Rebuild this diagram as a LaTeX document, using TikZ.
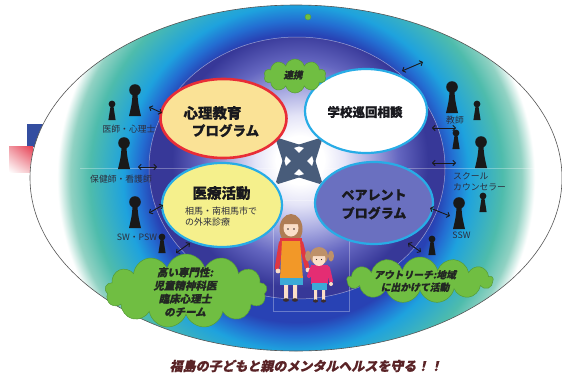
\documentclass[tikz,border=0pt]{standalone}
\usepackage{fontspec}
\newfontfamily\jp{Noto Sans CJK JP}
\newfontfamily\jpheavy{Noto Sans CJK JP}[FakeBold=0.7]
\newfontfamily\jpsl{Noto Sans CJK JP}[FakeSlant=0.22]
\newfontfamily\jpslheavy{Noto Sans CJK JP}[FakeSlant=0.22,FakeBold=0.6]
\usetikzlibrary{shapes.geometric,shapes.symbols,arrows.meta,shadings}

% ring and core colours
\definecolor{ringblue}{RGB}{40,66,180}
\definecolor{ringmid}{RGB}{35,110,210}
\definecolor{ringcyan}{RGB}{30,162,222}
\definecolor{ringteal}{RGB}{78,188,172}
\definecolor{ringpale}{RGB}{145,210,195}
\definecolor{coreindigo}{RGB}{55,56,152}
\definecolor{corepurple}{RGB}{100,102,192}
\definecolor{corelav}{RGB}{170,172,226}
\definecolor{corepale}{RGB}{228,228,247}
\definecolor{rimline}{RGB}{85,85,85}
% stray marks
\definecolor{markblue}{RGB}{52,78,160}
\definecolor{markredA}{RGB}{240,150,160}
\definecolor{markredB}{RGB}{230,60,80}
\definecolor{markredC}{RGB}{245,190,195}
\definecolor{markcream}{RGB}{250,225,160}
% bubbles
\definecolor{psyfill}{RGB}{250,226,150}
\definecolor{psyedge}{RGB}{232,45,55}
\definecolor{medfill}{RGB}{245,240,140}
\definecolor{parentfill}{RGB}{106,112,192}
\definecolor{bubbleedge}{RGB}{40,172,230}
\definecolor{crossfill}{RGB}{72,92,122}
\definecolor{cloudgreen}{RGB}{112,190,66}
\definecolor{cloudedge}{RGB}{85,155,55}
\definecolor{titleink}{RGB}{25,25,30}
\definecolor{labelink}{RGB}{45,45,60}
\definecolor{cloudink}{RGB}{35,40,35}
\definecolor{mottoink}{RGB}{90,35,38}
\definecolor{personfill}{RGB}{25,25,25}
% children
\definecolor{hairbrown}{RGB}{175,125,85}
\definecolor{hairlight}{RGB}{190,145,105}
\definecolor{skin}{RGB}{250,222,200}
\definecolor{shirtred}{RGB}{225,55,65}
\definecolor{apron}{RGB}{242,152,40}
\definecolor{skirtblue}{RGB}{60,170,215}
\definecolor{shirtpink}{RGB}{228,45,115}
\definecolor{shoe}{RGB}{60,45,45}

% ring: 25bp corresponds to 300pt
\pgfdeclareradialshading{ringshade}{\pgfpoint{0bp}{0bp}}{%
  color(0bp)=(ringblue); color(12bp)=(ringblue); color(13.1bp)=(ringmid);
  color(14.4bp)=(ringcyan); color(17.2bp)=(ringteal); color(18.8bp)=(ringpale);
  color(19.9bp)=(white); color(50bp)=(white)}
% core: 25bp corresponds to 200pt
\pgfdeclareradialshading{coreshade}{\pgfpoint{0bp}{0bp}}{%
  color(0bp)=(white); color(3bp)=(white); color(5.6bp)=(corepale);
  color(8.7bp)=(corelav); color(12.3bp)=(corepurple); color(16bp)=(coreindigo);
  color(50bp)=(coreindigo)}

\tikzset{
  bubble/.style={ellipse, line width=2.2pt, inner sep=0pt},
  puff/.style={cloud, cloud puffs=#1, cloud ignores aspect, fill=cloudgreen,
    draw=cloudedge, line width=0.5pt, inner sep=0pt},
  bubbletitle/.style={font=\jpheavy\bfseries\fontsize{#1}{#1}\selectfont, text=titleink, inner sep=0pt},
  bubbletext/.style={font=\jp\fontsize{9}{9}\selectfont, text=labelink, inner sep=0pt, anchor=west},
  rolelabel/.style={font=\jp\fontsize{8.8}{9}\selectfont, text=labelink, inner sep=0pt},
  cloudtext/.style={font=\jpslheavy\bfseries\fontsize{#1}{13.2}\selectfont, text=cloudink,
    align=center, inner sep=0pt},
  link/.style={line width=0.9pt, draw=personfill,
    {Straight Barb[length=2.6pt,width=5.5pt]}-{Straight Barb[length=2.6pt,width=5.5pt]}},
  ghost/.style={line width=0.5pt, draw=white, opacity=0.3},
  bigperson/.pic={
    \fill[personfill] (0,0) circle[radius=5.8];
    \fill[personfill] (-2.4,4) -- (2.4,4) .. controls (3.2,14) .. (6,26) -- (-6,26) .. controls (-3.2,14) .. (-2.4,4) -- cycle;},
  smallperson/.pic={
    \fill[personfill] (0,0) circle[radius=3.4];
    \fill[personfill] (-1.5,2.5) -- (1.5,2.5) .. controls (2,9) .. (3.6,16) -- (-3.6,16) .. controls (-2,9) .. (-1.5,2.5) -- cycle;}
}

\begin{document}
\begin{tikzpicture}[x=1pt,y=-1pt]
\useasboundingbox (0,0) rectangle (562,378);
\fill[white] (0,0) rectangle (562,378);

% stray marks at the left border
\fill[markblue] (27,124) rectangle (43,147);
\shade[upper left=markredA, upper right=markredB, lower left=white, lower right=markredC] (9,146) rectangle (33,172);
\draw[gray!35, line width=0.5pt] (50,118) -- (50,182) (53,118) -- (53,182);
\draw[markcream, line width=0.5pt]
  (43,150) -- (60,150) (45,150) -- (45,180) (35,168) -- (58,168) (35,176) -- (58,176);

% outer ring
\begin{scope}
  \clip (296,178) ellipse [x radius=266, y radius=173];
  \shade[shading=ringshade] (296,178) circle [radius=300];
\end{scope}
\draw[rimline, line width=0.6pt] (296,178) ellipse [x radius=266, y radius=173];

% inner core
\begin{scope}
  \clip (297,168) ellipse [x radius=148, y radius=131];
  \shade[shading=coreshade] (300,160) circle [radius=200];
\end{scope}
\draw[white, opacity=0.5, line width=0.5pt] (297,168) ellipse [x radius=148, y radius=131];

% faint guide lines
\draw[ghost] (80,168) -- (540,168);
\draw[ghost] (273,200) rectangle (349,311);

% small marker on the rim
\fill[cloudgreen, draw=cloudedge, line width=0.4pt] (308,17) circle [radius=3];

% central four-way arrow
\begin{scope}[shift={(299,161)}]
  \foreach \a in {45,135,225,315}{
    \fill[crossfill, rotate=\a] (0,-5.5) -- (13,-5.5) -- (9,-13) -- (31,-1.5) -- (31,1.5) -- (9,13) -- (13,5.5) -- (0,5.5) -- cycle;
  }
\end{scope}

% programme bubbles
\node[bubble, fill=psyfill, draw=psyedge, line width=2.6pt, minimum width=126pt, minimum height=79pt] (psy) at (223.5,118.5) {};
\node[bubble, fill=white, draw=bubbleedge, minimum width=122pt, minimum height=84pt] (school) at (366,111) {};
\node[bubble, fill=medfill, draw=bubbleedge, minimum width=120pt, minimum height=84pt] (med) at (222,205) {};
\node[bubble, fill=parentfill, draw=bubbleedge, minimum width=118pt, minimum height=82pt] (parent) at (374,203) {};

\node[bubbletitle=14.5] (psyA) at (212.5,113) {心理教育};
\node[bubbletitle=13.5] (psyB) at (225.5,130.5) {プログラム};
\node[bubbletitle=12.5] (schoolA) at (365,112) {学校巡回相談};
\node[bubbletitle=14.5] (medA) at (221.5,193) {医療活動};
\node[bubbletext] (medB) at (185,211) {相馬・南相馬市で};
\node[bubbletext] (medC) at (185,222.5) {の外来診療};
\node[bubbletitle=13] (parentA) at (374,195) {ペアレント};
\node[bubbletitle=13] (parentB) at (374,213) {プログラム};

% clouds
\node[puff=10, minimum width=62pt, minimum height=34pt] (cloudLink) at (295,76) {};
\node[puff=13, minimum width=162pt, minimum height=74pt] (cloudTeam) at (186,291) {};
\node[puff=13, minimum width=146pt, minimum height=46pt] (cloudOut) at (420,280) {};
\node[cloudtext=9.5] (linkText) at (293,75) {連携};
\node[cloudtext=10.5] (teamText) at (185,292) {高い専門性:\\児童精神科医\\臨床心理士\\のチーム};
\node[cloudtext=9.8, font=\jpslheavy\bfseries\fontsize{9.8}{12.4}\selectfont] (outText) at (415,281) {アウトリーチ:地域\\に出かけて活動};

% people around the ring
\pic at (135,90) {bigperson};
\pic at (112,104) {smallperson};
\pic at (124,143) {bigperson};
\pic at (135,202) {bigperson};
\pic at (162,237) {smallperson};
\pic at (452,87) {bigperson};
\pic at (477,104) {smallperson};
\pic at (456,133) {smallperson};
\pic at (481,142) {bigperson};
\pic at (483,196) {smallperson};
\pic at (459,203) {bigperson};
\pic at (432,239) {smallperson};

\node[rolelabel] (doc) at (129,129) {医師・心理士};
\node[rolelabel] (nurse) at (121,179) {保健師・看護師};
\node[rolelabel] (sw) at (137,237) {SW・PSW};
\node[rolelabel] (teacher) at (455,120) {教師};
\node[rolelabel, anchor=west] (scA) at (453,176) {スクール};
\node[rolelabel, anchor=west] (scB) at (453,187) {カウンセラー};
\node[rolelabel] (ssw) at (461.5,235) {SSW};

% two-way links
\coordinate (l1a) at (149,107); \coordinate (l1b) at (162,113);
\coordinate (l2a) at (138,167); \coordinate (l2b) at (157,167);
\coordinate (l3a) at (149,213); \coordinate (l3b) at (163,205);
\coordinate (l4a) at (176,253); \coordinate (l4b) at (190,243);
\coordinate (l5a) at (402,71);  \coordinate (l5b) at (423,62);
\coordinate (l6a) at (432,128); \coordinate (l6b) at (456,128);
\coordinate (l7a) at (432,163); \coordinate (l7b) at (456,163);
\coordinate (l8a) at (430,208); \coordinate (l8b) at (450,216);
\coordinate (l9a) at (408,243); \coordinate (l9b) at (421,252);
\foreach \k in {1,...,9}{\draw[link] (l\k a) -- (l\k b);}

% mother and child
\fill[hairbrown] (291,229) ellipse [x radius=11.5, y radius=15];
\draw[shirtred, line width=4.5pt, line cap=round] (281,243) -- (277,268) (301,243) -- (307,267);
\fill[skin] (278,271) circle [radius=2.4] (308,270) circle [radius=2.4];
\fill[shirtred] (280,238) rectangle (302,250);
\fill[apron] (282,241) -- (300,241) -- (303,279) -- (280,279) -- cycle;
\fill[skirtblue] (280,278) rectangle (303,285);
\fill[skin] (284,285) rectangle (288,299) (293,285) rectangle (297,299);
\fill[shoe] (286,300) ellipse [x radius=3, y radius=1.8] (295,300) ellipse [x radius=3, y radius=1.8];
\fill[skin] (291,228) ellipse [x radius=7.5, y radius=8.5];
\fill[hairbrown] (283,224) .. controls (284,213) and (298,213) .. (299,224) -- cycle;
\fill[shoe] (288,229) circle [radius=0.8] (294,229) circle [radius=0.8];

\fill[hairlight] (308,256) ellipse [x radius=3, y radius=5.5] (331,256) ellipse [x radius=3, y radius=5.5];
\fill[hairlight] (319,256) circle [radius=9];
\draw[shirtpink, line width=4pt, line cap=round] (312,268) -- (309,276) (328,268) -- (331,281);
\fill[skin] (331,284) circle [radius=2];
\fill[shirtpink] (311,265) rectangle (328,284);
\fill[skirtblue] (312,283) rectangle (327,290);
\fill[skin] (314,290) rectangle (317,300) (322,290) rectangle (325,300);
\fill[shoe] (315.5,301) ellipse [x radius=2.5, y radius=1.6] (323.5,301) ellipse [x radius=2.5, y radius=1.6];
\fill[skin] (319,259) ellipse [x radius=6.5, y radius=7];
\fill[hairlight] (312.5,256) .. controls (313,248) and (325,248) .. (325.5,256) -- cycle;
\fill[shoe] (316.5,259.5) circle [radius=0.7] (321.5,259.5) circle [radius=0.7];

% motto
\node[font=\jpslheavy\bfseries\fontsize{13}{13}\selectfont, text=mottoink, inner sep=0pt] (motto) at (306,366)
  {福島の子どもと親のメンタルヘルスを守る！！};
\end{tikzpicture}
\end{document}
